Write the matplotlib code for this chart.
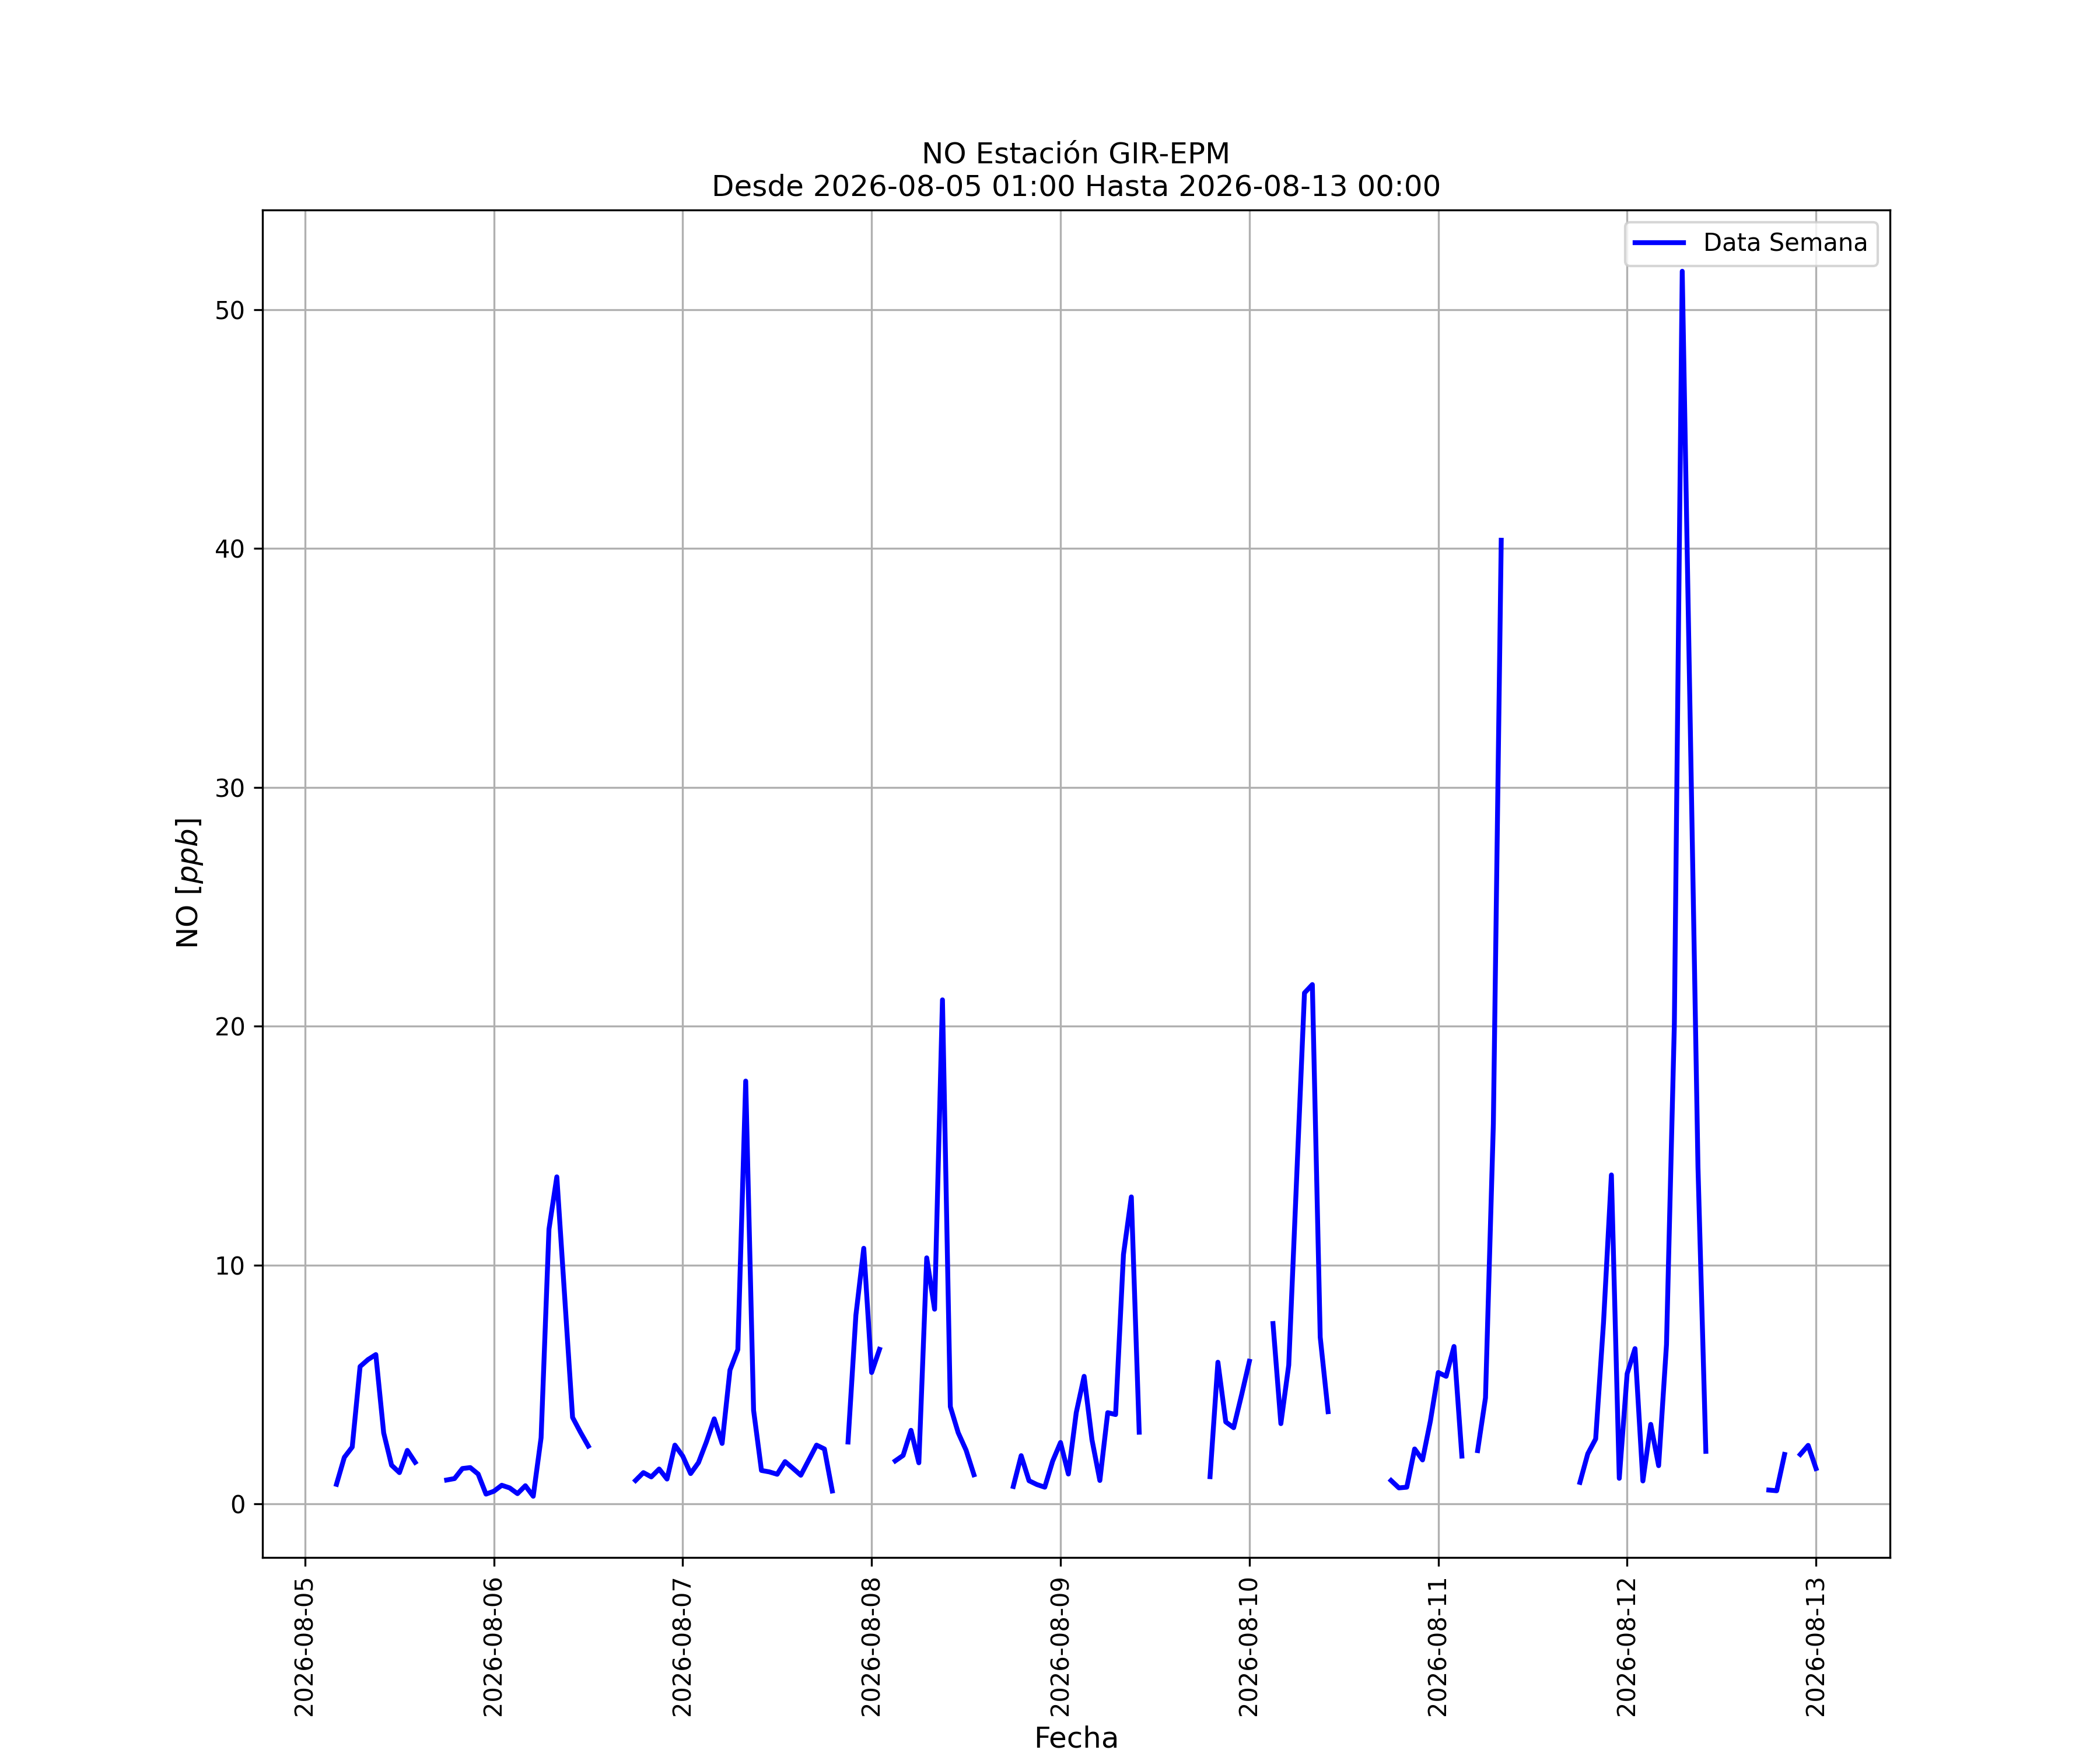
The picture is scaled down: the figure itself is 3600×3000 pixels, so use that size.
import numpy as np
import pandas as pd
import matplotlib
matplotlib.use('Agg')
import matplotlib.pyplot as plt
import matplotlib.dates as mdates

nan = np.nan

# NO hourly values (ppb), one list per day, hours 00..23
day05 = [nan, nan, nan, 0.82, 1.95, 2.38, 5.75, 6.04, 6.25, 2.97, 1.62, 1.31,
         2.24, 1.74, nan, nan, nan, 1.00, 1.06, 1.48, 1.52, 1.25, 0.41]  # from 01:00
day06 = [0.53, 0.78, 0.67, 0.43, 0.76, 0.32, 2.77, 11.5, 13.69, 8.65, 3.62, 3.00,
         2.42, nan, nan, nan, nan, nan, 0.98, 1.31, 1.13, 1.46, 1.04, 2.46]
day07 = [2.00, 1.27, 1.73, 2.59, 3.56, 2.53, 5.60, 6.46, 17.7, 3.92, 1.40, 1.34,
         1.24, 1.77, 1.49, 1.20, 1.83, 2.46, 2.30, 0.54, nan, 2.59, 7.90, 10.7]
day08 = [5.50, 6.47, nan, 1.80, 2.03, 3.08, 1.72, 10.3, 8.15, 21.1, 4.07, 2.98,
         2.25, 1.22, nan, nan, nan, nan, 0.73, 2.02, 0.97, 0.81, 0.70, 1.79]
day09 = [2.57, 1.25, 3.82, 5.34, 2.68, 0.98, 3.82, 3.74, 10.44, 12.85, 3.00, nan,
         nan, nan, nan, nan, nan, nan, nan, 1.14, 5.93, 3.43, 3.19, 4.55]
day10 = [5.97, nan, nan, 7.55, 3.36, 5.81, 13.6, 21.39, 21.74, 6.98, 3.86, nan,
         nan, nan, nan, nan, nan, nan, 0.98, 0.67, 0.70, 2.30, 1.84, 3.47]
day11 = [5.50, 5.34, 6.59, 2.00, nan, 2.23, 4.44, 15.9, 40.34, nan, nan, nan,
         nan, nan, nan, nan, nan, nan, 0.90, 2.10, 2.72, 7.60, 13.77, 1.07]
day12 = [5.45, 6.50, 0.96, 3.33, 1.60, 6.67, 20.1, 51.6, 33.0, 14.1, 2.20, nan,
         nan, nan, nan, nan, nan, nan, 0.58, 0.55, 2.07, nan, 2.07, 2.45]
day13 = [1.48]

no_ppb = day05 + day06 + day07 + day08 + day09 + day10 + day11 + day12 + day13
fechas = pd.date_range('2026-08-05 01:00', '2026-08-13 00:00', freq='h')

fig, ax = plt.subplots(figsize=(12, 10), dpi=300)
ax.plot(fechas, no_ppb, color='b', linewidth=2, label='Data Semana')

ax.set_title('NO Estación GIR-EPM\nDesde 2026-08-05 01:00 Hasta 2026-08-13 00:00', fontsize=12)
ax.set_xlabel('Fecha', fontsize=12)
ax.set_ylabel('NO [$ppb$]', fontsize=12)
ax.xaxis.set_major_locator(mdates.DayLocator())
ax.xaxis.set_major_formatter(mdates.DateFormatter('%Y-%m-%d'))
plt.setp(ax.get_xticklabels(), rotation=90)
ax.grid(True)
ax.legend(loc='upper right')

plt.savefig('out.png', dpi=300)
